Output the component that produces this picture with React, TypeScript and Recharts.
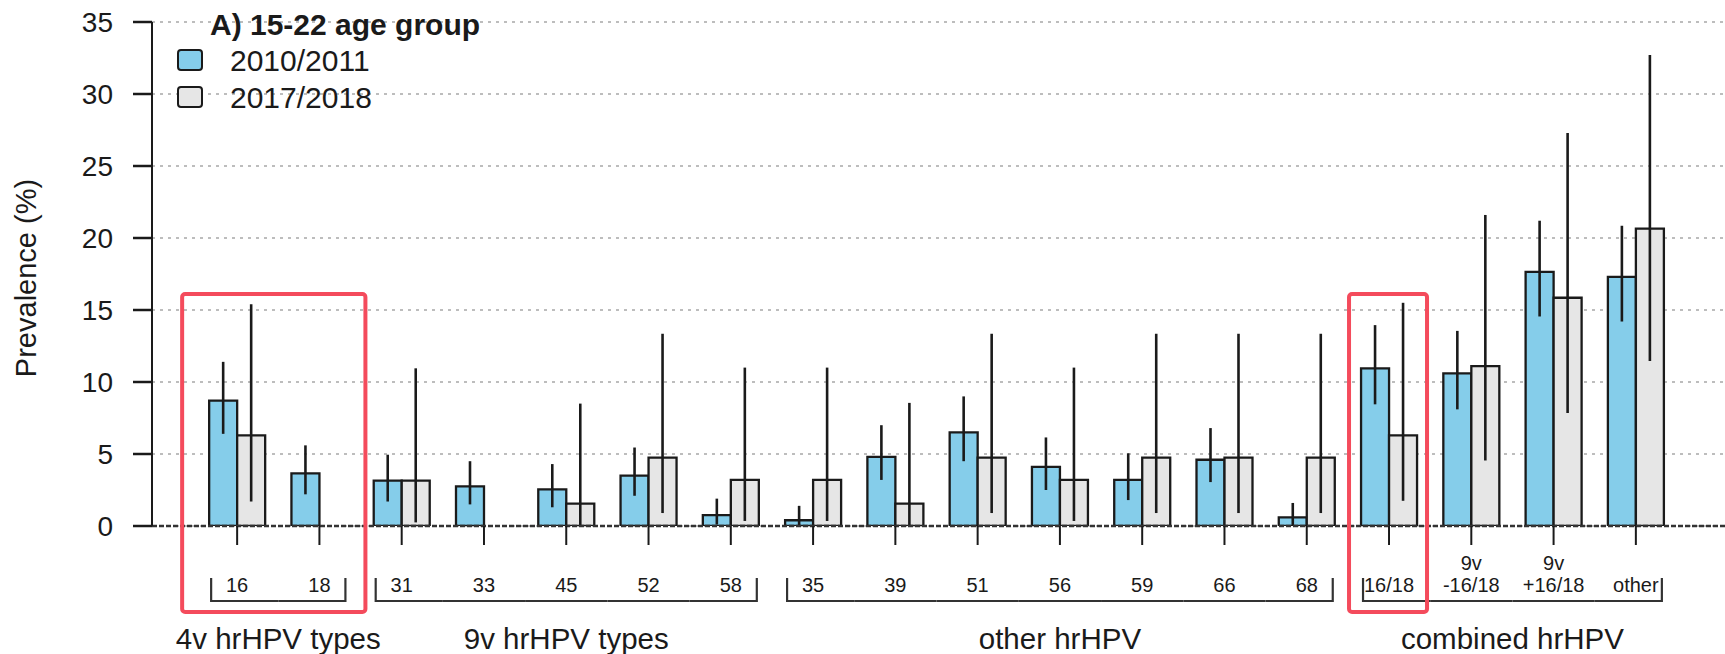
import React from 'react';
import { BarChart, Bar, XAxis, YAxis, CartesianGrid, ErrorBar, Legend } from 'recharts';

// ---------- data ----------
const categories = ["16", "18", "31", "33", "45", "52", "58", "35", "39", "51", "56", "59", "66", "68", "16/18", "9v -16/18", "9v +16/18", "other"];
const tickTopLines = ["", "", "", "", "", "", "", "", "", "", "", "", "", "", "", "9v", "9v", ""];
const tickBottomLines = ["16", "18", "31", "33", "45", "52", "58", "35", "39", "51", "56", "59", "66", "68", "16/18", "-16/18", "+16/18", "other"];

const prev2010 = [8.7, 3.65, 3.15, 2.75, 2.55, 3.5, 0.75, 0.4, 4.8, 6.5, 4.1, 3.2, 4.6, 0.6, 10.95, 10.6, 17.65, 17.3];
const low2010 = [6.4, 2.2, 1.7, 1.5, 1.3, 2.1, 0.1, 0.05, 3.2, 4.5, 2.5, 1.8, 3.05, 0.05, 8.45, 8.1, 14.55, 14.2];
const high2010 = [11.4, 5.6, 4.95, 4.5, 4.3, 5.45, 1.9, 1.4, 7.0, 9.0, 6.15, 5.05, 6.8, 1.6, 13.95, 13.55, 21.2, 20.85];

const prev2017 = [6.3, 0, 3.15, 0, 1.55, 4.75, 3.2, 3.2, 1.55, 4.75, 3.2, 4.75, 4.75, 4.75, 6.3, 11.1, 15.85, 20.65];
const low2017 = [1.7, 0, 0.25, 0, 0, 0.9, 0.35, 0.35, 0, 0.9, 0.35, 0.9, 0.9, 0.9, 1.75, 4.55, 7.85, 11.45];
const high2017 = [15.4, 5.6, 10.95, 5.6, 8.5, 13.35, 11.0, 11.0, 8.55, 13.35, 11.0, 13.35, 13.35, 13.35, 15.5, 21.6, 27.3, 32.7];

const groupLabels = ["4v hrHPV types", "9v hrHPV types", "other hrHPV", "combined hrHPV"];
const groupFirst = [0, 2, 7, 14];
const groupLast = [1, 6, 13, 17];

// highlighted (red-boxed) category spans
const highlightFirst = [0, 14];
const highlightLast = [1, 14];

const yTicks = [0, 5, 10, 15, 20, 25, 30, 35];
const seriesNames = ["2010/2011", "2017/2018"];
const legendTitle = "A) 15-22 age group";
const yAxisTitle = "Prevalence (%)";

// ---------- layout ----------
const W = 1725;
const H = 654;
const Y_AXIS_W = 152;
const PLOT_TOP = 22;
const X_AXIS_H = 128;
const PAD_L = 44;
const PAD_R = 48;
const BAND = (W - Y_AXIS_W - PAD_L - PAD_R) / categories.length;
const BRACKET_END = 26;
const HL_LEFT = [55, 40];
const HL_RIGHT = [46, 38];
const HL_TOP = 251;
const HL_BOTTOM = 67;

const BLUE = '#85CDEA';
const GRAY = '#E6E6E6';
const INK = '#1a1a1a';
const RED = '#F44B5C';
const FONT = '"Liberation Sans", Arial, Helvetica, sans-serif';

const data = categories.map((name, i) => ({
  name,
  v2010: prev2010[i],
  e2010: [prev2010[i] - low2010[i], high2010[i] - prev2010[i]],
  v2017: prev2017[i],
  e2017: [prev2017[i] - low2017[i], high2017[i] - prev2017[i]],
}));

const BracketTick = (props: any) => {
  const { x, y, payload } = props;
  const i = categories.indexOf(payload.value);
  if (i < 0) return null;
  const g = groupFirst.findIndex((f, k) => i >= f && i <= groupLast[k]);
  const isFirst = groupFirst[g] === i;
  const isLast = groupLast[g] === i;
  const hx1 = isFirst ? x - BRACKET_END : x - BAND / 2;
  const hx2 = isLast ? x + BRACKET_END : x + BAND / 2;
  const hy = y + 56;
  const vTop = y + 33;
  const h = highlightFirst.indexOf(i);
  return (
    <g>
      {tickTopLines[i] ? (
        <text x={x} y={y + 18} dy="0.36em" textAnchor="middle" fontSize={20} fill={INK} fontFamily={FONT}>
          {tickTopLines[i]}
        </text>
      ) : null}
      <text x={x} y={y + 40} dy="0.36em" textAnchor="middle" fontSize={20} fill={INK} fontFamily={FONT}>
        {tickBottomLines[i]}
      </text>
      <line x1={hx1} x2={hx2} y1={hy} y2={hy} stroke="#333" strokeWidth={2.2} />
      {isFirst ? <line x1={hx1} x2={hx1} y1={vTop} y2={hy + 1} stroke="#333" strokeWidth={2.2} /> : null}
      {isLast ? <line x1={hx2} x2={hx2} y1={vTop} y2={hy + 1} stroke="#333" strokeWidth={2.2} /> : null}
      {isFirst ? (
        <text
          x={x + ((groupLast[g] - groupFirst[g]) * BAND) / 2}
          y={y + 93}
          dy="0.36em"
          textAnchor="middle"
          fontSize={29.5}
          fill={INK}
          fontFamily={FONT}
        >
          {groupLabels[g]}
        </text>
      ) : null}
      {h >= 0 ? (
        <rect
          x={x - HL_LEFT[h]}
          y={y - HL_TOP}
          width={HL_LEFT[h] + (highlightLast[h] - highlightFirst[h]) * BAND + HL_RIGHT[h]}
          height={HL_TOP + HL_BOTTOM}
          rx={3}
          fill="none"
          stroke={RED}
          strokeWidth={4}
        />
      ) : null}
    </g>
  );
};

const LegendBox = () => (
  <svg width={600} height={120} style={{ display: 'block' }}>
    <text x={210} y={24} dy="0.36em" fontSize={30} fontWeight="bold" fill={INK} fontFamily={FONT}>
      {legendTitle}
    </text>
    <rect x={178} y={50} width={24} height={20} rx={3} fill={BLUE} stroke={INK} strokeWidth={2} />
    <text x={230} y={60} dy="0.36em" fontSize={30} fill={INK} fontFamily={FONT}>
      {seriesNames[0]}
    </text>
    <rect x={178} y={87} width={24} height={20} rx={3} fill={GRAY} stroke={INK} strokeWidth={2} />
    <text x={230} y={97} dy="0.36em" fontSize={30} fill={INK} fontFamily={FONT}>
      {seriesNames[1]}
    </text>
  </svg>
);

const YLabel = (props: any) => {
  const vb = props.viewBox || { x: 0, y: PLOT_TOP, width: Y_AXIS_W, height: H - PLOT_TOP - X_AXIS_H };
  const cx = 26;
  const cy = vb.y + vb.height / 2 + 4;
  return (
    <text
      x={cx}
      y={cy}
      dy="0.36em"
      textAnchor="middle"
      transform={`rotate(-90 ${cx} ${cy})`}
      fontSize={29}
      fill={INK}
      fontFamily={FONT}
    >
      {yAxisTitle}
    </text>
  );
};

export default function App() {
  return (
    <div style={{ position: 'absolute', left: 0, top: 0, width: W, height: H, background: '#fff', fontFamily: FONT }}>
      <BarChart
        width={W}
        height={H}
        data={data}
        margin={{ top: PLOT_TOP, right: 0, bottom: 0, left: 0 }}
        barCategoryGap="16%"
        barGap={0}
      >
        <CartesianGrid vertical={false} stroke="#bdbdbd" strokeWidth={2} strokeDasharray="3 5" />
        <XAxis
          dataKey="name"
          interval={0}
          height={X_AXIS_H}
          padding={{ left: PAD_L, right: PAD_R }}
          tickSize={19}
          tickMargin={0}
          axisLine={{ stroke: '#333', strokeWidth: 2.5, strokeDasharray: '5 2' }}
          tickLine={{ stroke: INK, strokeWidth: 2 }}
          tick={<BracketTick />}
        />
        <YAxis
          domain={[0, 35]}
          ticks={yTicks}
          interval={0}
          width={Y_AXIS_W}
          tickSize={19}
          tickMargin={20}
          allowDataOverflow
          axisLine={{ stroke: INK, strokeWidth: 2 }}
          tickLine={{ stroke: INK, strokeWidth: 2.5 }}
          tick={{ fontSize: 28, fill: INK, fontFamily: FONT }}
          label={<YLabel />}
        />
        <Legend
          verticalAlign="middle"
          align="center"
          layout="horizontal"
          wrapperStyle={{ position: 'absolute', left: 0, top: 0, width: 600, height: 120 }}
          content={() => <LegendBox />}
        />
        <Bar dataKey="v2010" name={seriesNames[0]} fill={BLUE} stroke={INK} strokeWidth={2.3} isAnimationActive={false}>
          <ErrorBar dataKey="e2010" width={0} stroke={INK} strokeWidth={2.6} direction="y" isAnimationActive={false} />
        </Bar>
        <Bar dataKey="v2017" name={seriesNames[1]} fill={GRAY} stroke={INK} strokeWidth={2.3} isAnimationActive={false}>
          <ErrorBar dataKey="e2017" width={0} stroke={INK} strokeWidth={2.6} direction="y" isAnimationActive={false} />
        </Bar>
      </BarChart>
    </div>
  );
}
